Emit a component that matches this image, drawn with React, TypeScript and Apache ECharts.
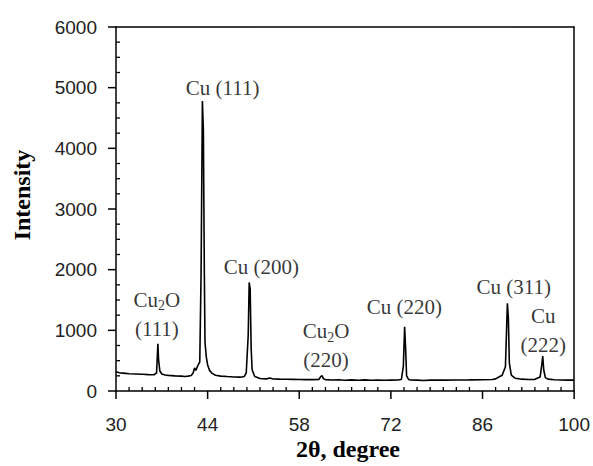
import React, { useEffect, useRef } from "react";
import * as echarts from "echarts";

const twoTheta = [
  30.0, 30.5, 31.0, 31.5, 32.0, 33.0, 34.0, 35.0, 35.8, 36.2, 36.4, 36.5, 36.7, 37.0, 37.5, 38.0, 39.0, 40.0,
  40.5, 41.0, 41.5, 41.8, 42.0, 42.2, 42.5, 42.8, 43.0, 43.2, 43.35, 43.5, 43.6, 43.8, 44.0, 44.3, 44.7,
  45.2, 46.0, 47.0, 48.0, 49.0, 49.6, 49.9, 50.2, 50.35, 50.5, 50.65, 50.8, 51.2, 52.0, 53.0, 53.5, 54.0,
  55.0, 56.0, 57.0, 58.0, 59.0, 60.0, 61.0, 61.3, 61.5, 61.7, 62.0, 63.0, 64.0, 65.0, 66.0, 67.0, 68.0,
  69.0, 70.0, 71.0, 72.0, 73.0, 73.6, 73.9, 74.1, 74.25, 74.4, 74.7, 75.0, 76.0, 77.0, 78.0, 80.0, 82.0,
  84.0, 86.0, 87.5, 88.0, 88.5, 89.0, 89.5, 89.8, 89.95, 90.1, 90.4, 91.0, 92.0, 93.0, 94.0, 94.8, 95.05,
  95.2, 95.35, 95.6, 96.0, 97.0, 98.0, 99.0, 100.0,
];
const intensity = [
  318, 300, 295, 290, 285, 280, 275, 270, 268, 300, 780, 520, 330, 280, 265, 258, 250, 245,
  240, 245, 255, 300, 380, 340, 420, 480, 1950, 4780, 4300, 1900, 800, 560, 430, 340, 290,
  260, 245, 238, 232, 228, 240, 300, 920, 1790, 1680, 700, 350, 240, 205, 200, 215, 198,
  195, 193, 192, 190, 188, 188, 190, 240, 252, 200, 188, 182, 186, 178, 184, 176, 183,
  178, 182, 176, 180, 182, 190, 400, 1060, 700, 250, 190, 182, 180, 172, 180, 180, 182,
  183, 186, 190, 200, 230, 260, 400, 1445, 1198, 460, 260, 210, 195, 190, 192, 230, 430,
  576, 350, 220, 195, 185, 182, 180, 180,
];

const peakNames = ["Cu (111)", "Cu (200)", "Cu2O\n(111)", "Cu2O\n(220)", "Cu (220)", "Cu (311)", "Cu\n(222)"];
const peakLabelX = [46.3, 52.2, 36.25, 62.1, 74.07, 90.77, 95.27];
const peakLabelY = [5000, 2049, 1261, 745, 1390, 1719, 992];

const xTicks = { min: 30, max: 100, interval: 14, minorStep: 2 };
const yTicks = { min: 0, max: 6000, interval: 1000, minorStep: 250 };

type TickSpec = { min: number; max: number; interval: number; minorStep: number };

function majorValues(t: TickSpec): number[] {
  const out: number[] = [];
  const n = Math.round((t.max - t.min) / t.interval);
  for (let i = 0; i <= n; i++) out.push(t.min + i * t.interval);
  return out;
}

function minorValues(t: TickSpec): number[] {
  const out: number[] = [];
  const n = Math.round((t.max - t.min) / t.minorStep);
  for (let i = 1; i < n; i++) {
    const v = t.min + i * t.minorStep;
    if (Math.abs((v - t.min) % t.interval) > 1e-9) out.push(v);
  }
  return out;
}

function richName(name: string): string {
  return name
    .split("\n")
    .map((line) => line.replace("Cu2O", "{a|Cu}{s|2}{a|O}").replace(/^(?!\{)(.*)$/, "{a|$1}"))
    .join("\n");
}

const axisStyle = { color: "#000", width: 1.5 };

// tick marks as [value, isMajor] for each axis
const xTickData = [...majorValues(xTicks).map((v) => [v, 1]), ...minorValues(xTicks).map((v) => [v, 0])];
const yTickData = [...majorValues(yTicks).map((v) => [v, 1]), ...minorValues(yTicks).map((v) => [v, 0])];

export default function App() {
  const ref = useRef<HTMLDivElement>(null);
  useEffect(() => {
    if (!ref.current) return;
    const chart = echarts.init(ref.current, null, { renderer: "svg" });
    const lineData = twoTheta.map((t, i) => [t, intensity[i]]);
    const labelData = peakNames.map((n, i) => ({ name: n, value: [peakLabelX[i], peakLabelY[i]] }));
    chart.setOption({
      animation: false,
      backgroundColor: "#ffffff",
      grid: { left: 116, top: 27, right: 18, bottom: 75 },
      xAxis: [
        {
          type: "value",
          position: "bottom",
          min: xTicks.min,
          max: xTicks.max,
          interval: xTicks.interval,
          axisLine: { show: true, onZero: false, lineStyle: axisStyle },
          axisTick: { show: false },
          splitLine: { show: false },
          axisLabel: { color: "#222", fontFamily: "Liberation Sans", fontSize: 19, margin: 24 },
        },
        {
          type: "value",
          position: "top",
          min: xTicks.min,
          max: xTicks.max,
          interval: xTicks.interval,
          axisLine: { show: true, onZero: false, lineStyle: axisStyle },
          axisTick: { show: false },
          splitLine: { show: false },
          axisLabel: { show: false },
        },
      ],
      yAxis: [
        {
          type: "value",
          position: "left",
          min: yTicks.min,
          max: yTicks.max,
          interval: yTicks.interval,
          axisLine: { show: true, onZero: false, lineStyle: axisStyle },
          axisTick: { show: false },
          splitLine: { show: false },
          axisLabel: { color: "#222", fontFamily: "Liberation Sans", fontSize: 19, margin: 19, formatter: (v: number) => String(v) },
        },
        {
          type: "value",
          position: "right",
          min: yTicks.min,
          max: yTicks.max,
          interval: yTicks.interval,
          axisLine: { show: true, onZero: false, lineStyle: axisStyle },
          axisTick: { show: false },
          splitLine: { show: false },
          axisLabel: { show: false },
        },
      ],
      graphic: [
        {
          type: "text",
          x: 22,
          y: 195,
          rotation: Math.PI / 2,
          style: {
            text: "Intensity",
            font: "bold 24px 'Liberation Serif'",
            fill: "#000",
            textAlign: "center",
            textVerticalAlign: "middle",
          },
        },
        {
          type: "text",
          x: 348,
          y: 449,
          style: {
            text: "2θ, degree",
            font: "bold 24px 'Liberation Serif'",
            fill: "#000",
            textAlign: "center",
            textVerticalAlign: "middle",
          },
        },
      ],
      series: [
        {
          type: "line",
          data: lineData,
          showSymbol: false,
          symbol: "none",
          lineStyle: { color: "#000", width: 1.6 },
          z: 3,
        },
        {
          type: "custom",
          name: "xticks",
          data: xTickData.map((d) => [d[0], yTicks.min, d[1]]),
          silent: true,
          clip: false,
          encode: { x: 0, y: 1 },
          renderItem: (params: any, api: any) => {
            const p = api.coord([api.value(0), api.value(1)]);
            const major = api.value(2) === 1;
            return major
              ? { type: "rect", shape: { x: p[0] - 0.75, y: p[1], width: 1.5, height: 8 }, style: { fill: "#000" } }
              : { type: "rect", shape: { x: p[0] - 0.65, y: p[1] - 4, width: 1.3, height: 4 }, style: { fill: "#000" } };
          },
          z: 6,
        },
        {
          type: "custom",
          name: "yticks",
          data: yTickData.map((d) => [xTicks.min, d[0], d[1]]),
          silent: true,
          clip: false,
          encode: { x: 0, y: 1 },
          renderItem: (params: any, api: any) => {
            const p = api.coord([api.value(0), api.value(1)]);
            const major = api.value(2) === 1;
            return major
              ? { type: "rect", shape: { x: p[0] - 8, y: p[1] - 0.75, width: 8, height: 1.5 }, style: { fill: "#000" } }
              : { type: "rect", shape: { x: p[0], y: p[1] - 0.65, width: 4, height: 1.3 }, style: { fill: "#000" } };
          },
          z: 6,
        },
        {
          type: "scatter",
          data: labelData,
          symbolSize: 0,
          silent: true,
          label: {
            show: true,
            position: "inside",
            formatter: (p: any) => richName(p.name),
            color: "#000",
            fontFamily: "Liberation Serif",
            fontSize: 21,
            lineHeight: 29,
            rich: {
              a: { fontFamily: "Liberation Serif", fontSize: 21, lineHeight: 29, color: "#000" },
              s: { fontFamily: "Liberation Serif", fontSize: 14, lineHeight: 29, color: "#000", padding: [12, 0, 0, 0] },
            },
          },
          z: 4,
        },
      ],
    });
    return () => chart.dispose();
  }, []);
  return <div ref={ref} style={{ width: 593, height: 466, position: "absolute", left: 0, top: 0 }} />;
}
